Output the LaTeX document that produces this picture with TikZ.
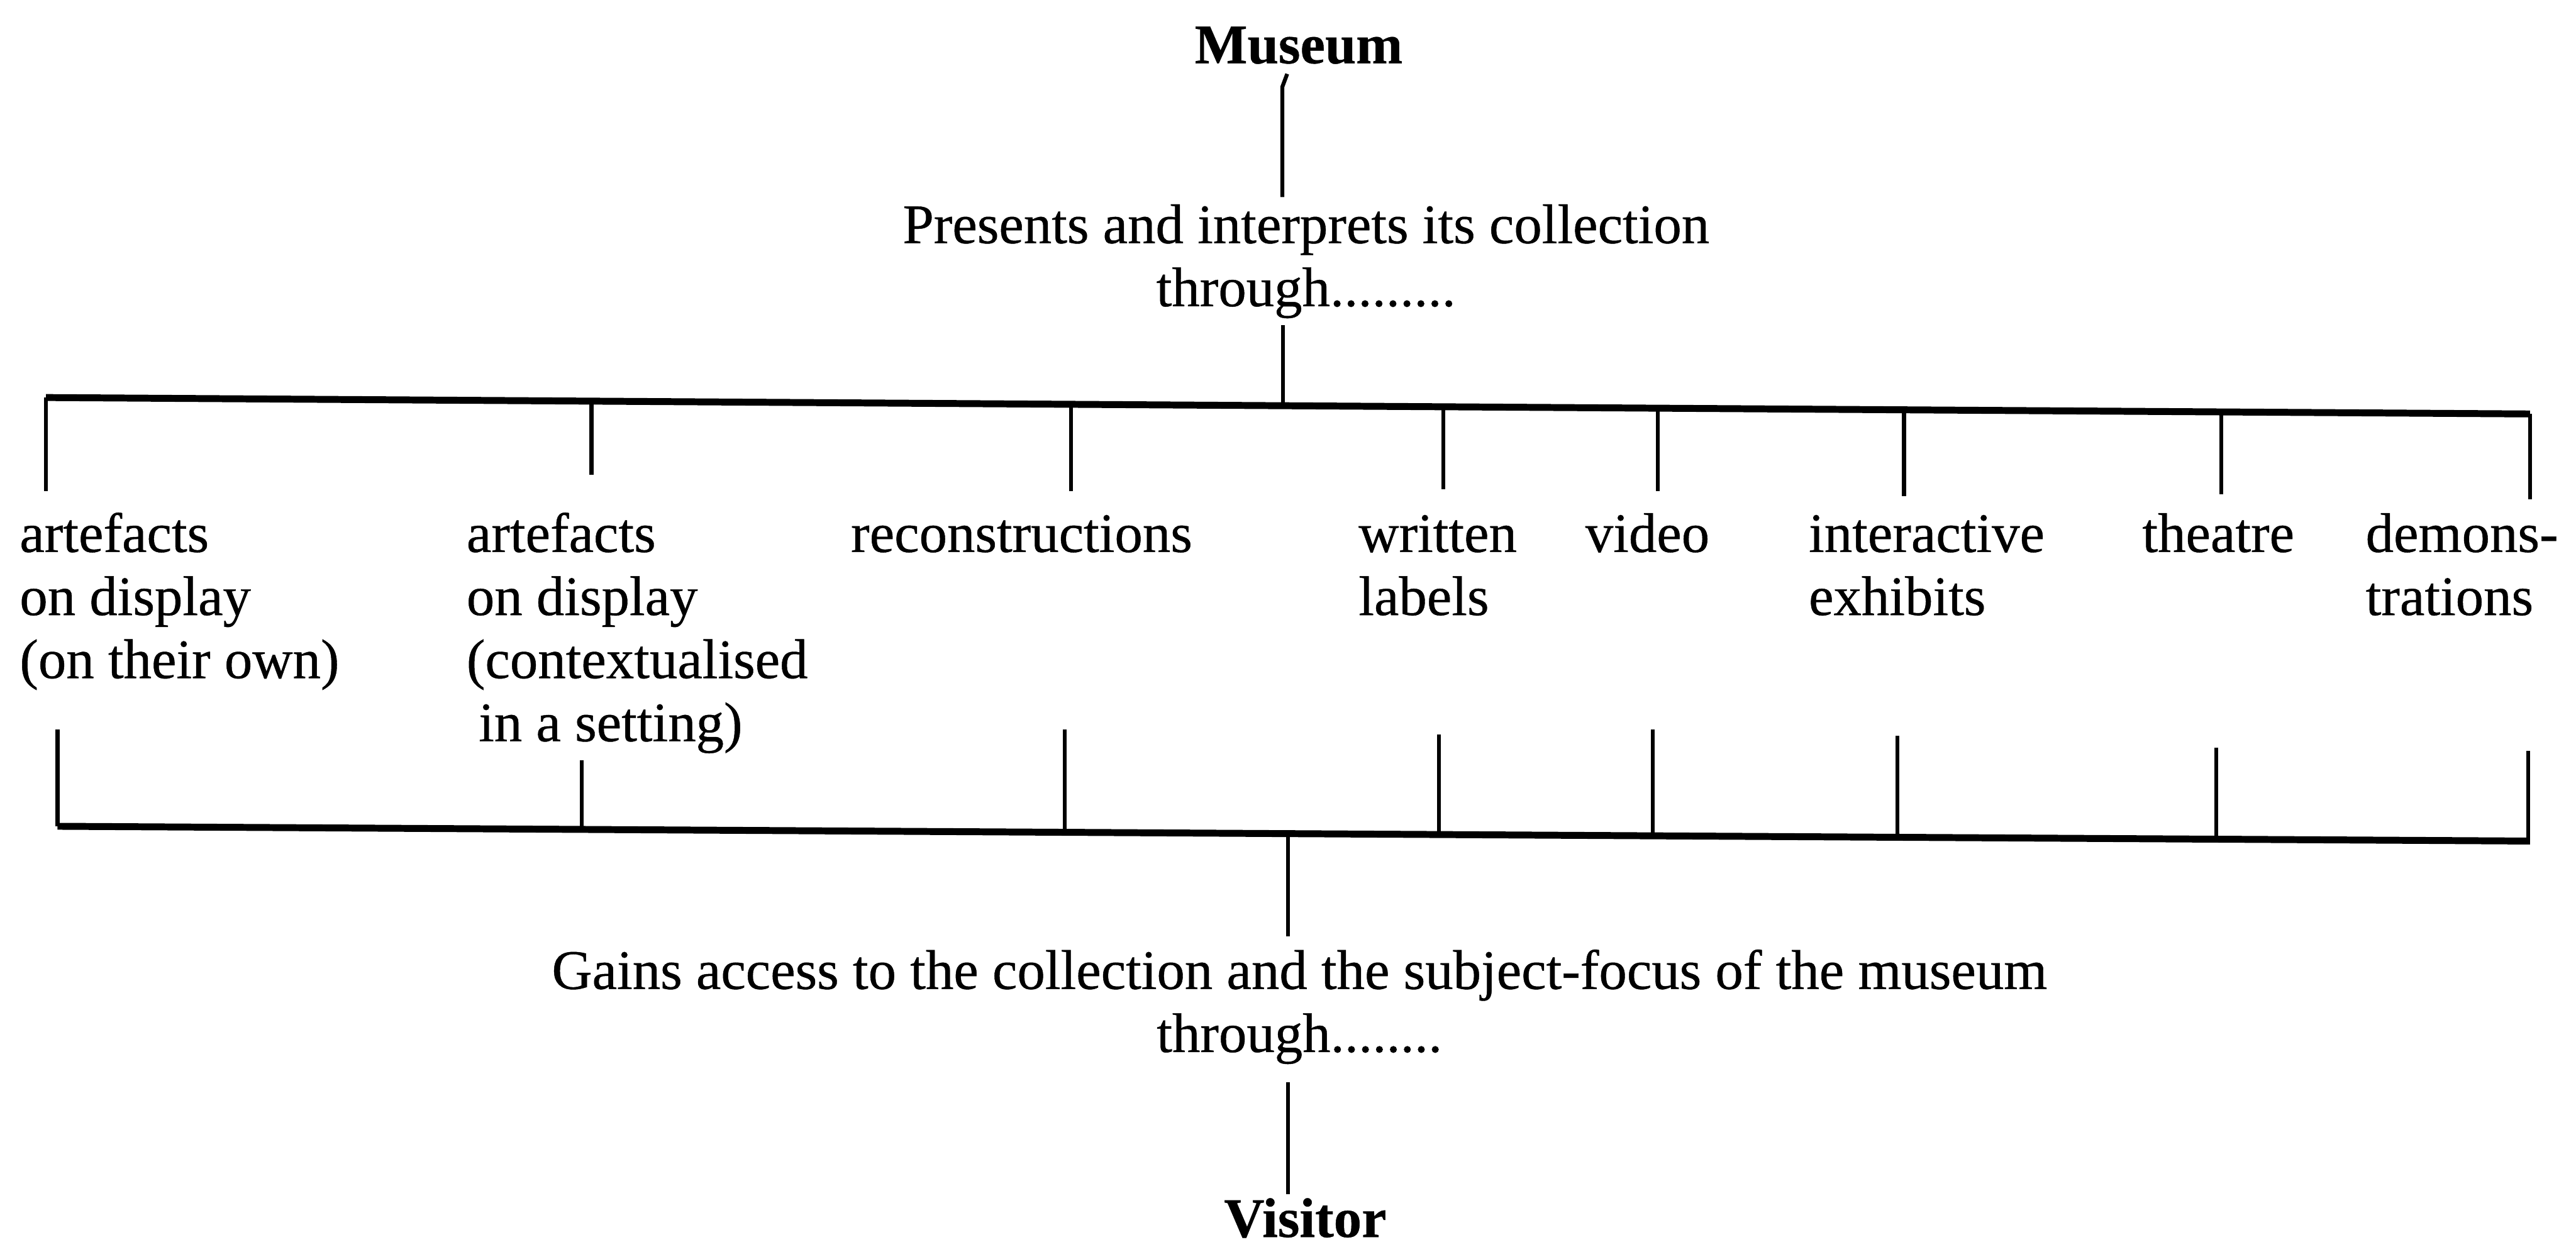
\documentclass[tikz,border=0pt]{standalone}
\usepackage{fontspec}
\setmainfont{Liberation Serif}[FakeBold=0.5]
\begin{document}
\begin{tikzpicture}[x=0.5pt,y=-0.5pt,
  txt/.style={font=\fontsize{17}{19.2}\selectfont, inner sep=0pt, outer sep=0pt},
  lbl/.style={txt, align=left, anchor=base west},
  ctr/.style={txt, align=center, anchor=base},
  ttl/.style={txt, font=\fontsize{17}{19.2}\selectfont\bfseries, anchor=base},
  bar/.style={line width=2.1pt, line cap=butt},
  vline/.style={line width=1.2pt}]
\useasboundingbox (0,0) rectangle (1568,759);
\fill[white] (0,0) rectangle (1568,759);

% texts (multi-line nodes are placed by the baseline of their last line)
\node[ttl] (museum) at (790.5,38.5) {Museum};
\node[ctr] (presents) at (795,186.4) {Presents and interprets its collection\\through.........};
\node[lbl] (a1) at (12,412.8) {artefacts\\on display\\(on their own)};
\node[lbl] (a2) at (284,451.2) {artefacts\\on display\\(contextualised\\\hspace*{3.7pt}in a setting)};
\node[lbl] (rec) at (518,336) {reconstructions};
\node[lbl] (wl) at (827,374.4) {written\\labels};
\node[lbl] (vid) at (965,336) {video};
\node[lbl] (ie) at (1101,374.4) {interactive\\exhibits};
\node[lbl] (th) at (1304,336) {theatre};
\node[lbl] (dm) at (1440,374.4) {demons-\\trations};
\node[ctr] (gains) at (791,640.4) {Gains access to the collection and the subject-focus of the museum\\through........};
\node[ttl] (visitor) at (794.5,753) {Visitor};

% upper risers
\coordinate (m0) at (783.5,45);
\coordinate (m1) at (780.5,53);
\coordinate (m2) at (780.5,120);
\draw[vline] (m0) -- (m1) -- (m2);
\coordinate (p1) at (781,198);
\coordinate (p2) at (781,247);
\draw[vline] (p1) -- (p2);

% top bar
\coordinate (tl) at (28,242);
\coordinate (tr) at (1540,252);
\draw[bar] (tl) -- (tr);
\foreach \n/\x/\ya/\yb in {1/28/242/299, 2/360/244.2/289, 3/652/246.1/299, 4/878.5/247.6/298,
  5/1009/248.5/299, 6/1159/249.5/302, 7/1352/250.8/301, 8/1540/252/304}{
  \coordinate (tb\n) at (\x,\ya);
  \coordinate (te\n) at (\x,\yb);
  \draw[vline] (tb\n) -- (te\n);
}

% bottom bar
\coordinate (bl) at (35,503);
\coordinate (br) at (1540,512);
\draw[bar] (bl) -- (br);
\foreach \n/\x/\ya/\yb in {1/35/444/503, 2/354/463/504.9, 3/648/444/506.7, 4/876/447/508,
  5/1006/444/508.8, 6/1155/448/509.7, 7/1349/455/510.9, 8/1539/457/512}{
  \coordinate (bt\n) at (\x,\ya);
  \coordinate (bb\n) at (\x,\yb);
  \draw[vline] (bt\n) -- (bb\n);
}

% lower risers
\coordinate (g1) at (784,507.5);
\coordinate (g2) at (784,570);
\draw[vline] (g1) -- (g2);
\coordinate (v1) at (784,659);
\coordinate (v2) at (784,727);
\draw[vline] (v1) -- (v2);
\end{tikzpicture}
\end{document}
